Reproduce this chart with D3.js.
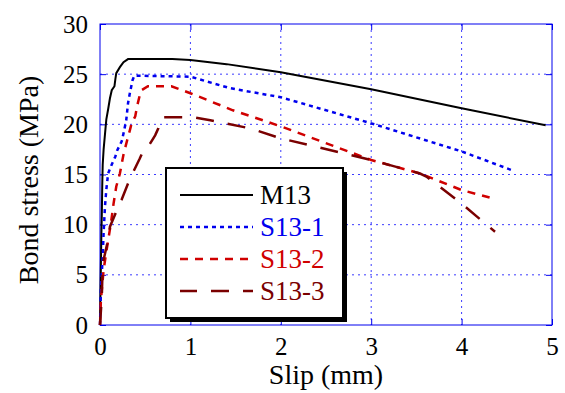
<!DOCTYPE html>
<html>
<head>
<meta charset="utf-8">
<script src="https://cdn.jsdelivr.net/npm/d3@7"></script>
<style>
  body { margin: 0; background: #fff; }
  text { font-family: "Liberation Serif", "Times New Roman", serif; }
</style>
</head>
<body>
<div id="chart"></div>
<script>
// series: [slip mm, bond stress MPa]
const m13 = [[0,0],[0.005,3],[0.01,6],[0.015,9],[0.02,11],[0.025,14],[0.03,16],[0.04,17.5],[0.055,19],
  [0.07,20.5],[0.09,21.5],[0.11,22.6],[0.13,23.4],[0.16,23.8],[0.17,24.5],[0.18,25.1],[0.22,25.7],
  [0.26,26.2],[0.31,26.5],[0.8,26.5],[1.0,26.4],[1.4,26.0],[2.0,25.2],[3.0,23.5],[4.0,21.6],[4.93,19.9]];
const s131 = [[0,0],[0.01,3.5],[0.03,6.8],[0.04,9.2],[0.055,11.8],[0.07,13.5],[0.09,15.1],[0.13,16.0],
  [0.17,16.8],[0.19,17.4],[0.24,18.3],[0.26,19.1],[0.29,20.4],[0.31,22.1],[0.33,23.1],[0.36,24.4],
  [0.38,24.85],[1.0,24.75],[1.44,23.6],[2.0,22.7],[3.0,20.1],[4.0,17.3],[4.55,15.45]];
const s132 = [[0,0],[0.01,2.5],[0.04,5.5],[0.07,7.3],[0.12,10.1],[0.15,12.1],[0.18,13.8],[0.22,15.1],
  [0.26,17.0],[0.30,18.4],[0.33,19.4],[0.35,20.1],[0.39,20.8],[0.41,21.8],[0.44,22.9],[0.46,23.4],
  [0.53,23.8],[0.79,23.8],[1.0,23.1],[1.47,21.4],[2.0,19.8],[3.0,16.45],[3.54,15.1],[4.0,13.45],[4.31,12.7]];
const s133 = [[0,0],[0.02,2.8],[0.03,6.1],[0.055,7.1],[0.09,8.5],[0.11,9.8],[0.18,11.3],[0.24,12.5],
  [0.31,14.1],[0.37,15.3],[0.44,16.6],[0.48,17.4],[0.52,17.6],[0.61,18.9],[0.645,19.6],[0.66,20.4],
  [0.68,20.7],[1.03,20.7],[1.22,20.4],[1.66,19.6],[2.0,18.6],[3.0,16.45],[3.54,15.1],[3.61,14.8],
  [4.0,12.1],[4.17,10.8],[4.37,9.3]];

const seriesNames = ["M13", "S13-1", "S13-2", "S13-3"];
const seriesData = [m13, s131, s132, s133];
const seriesColors = ["#000000", "#0000ee", "#d00000", "#7a0000"];
const seriesDash = [null, "4,4", "8,7", "18,14"];
const xTicks = [0, 1, 2, 3, 4, 5];
const yTicks = [0, 5, 10, 15, 20, 25, 30];

const W = 565, H = 393;
const margin = { top: 24, right: 13, bottom: 68, left: 100 };
const width = W - margin.left - margin.right;
const height = H - margin.top - margin.bottom;

const svg = d3.select("#chart").append("svg")
  .attr("width", W).attr("height", H);

const chart = svg.append("g")
  .attr("transform", `translate(${margin.left},${margin.top})`);

const x = d3.scaleLinear().domain([0, 5]).range([0, width]);
const y = d3.scaleLinear().domain([0, 30]).range([height, 0]);

// grid
chart.append("g").selectAll("line.gx")
  .data(xTicks.slice(1, -1)).enter().append("line")
  .attr("x1", d => x(d)).attr("x2", d => x(d))
  .attr("y1", 0).attr("y2", height)
  .attr("stroke", "#3a3aff").attr("stroke-width", 1).attr("stroke-dasharray", "2,4");
chart.append("g").selectAll("line.gy")
  .data(yTicks.slice(1, -1)).enter().append("line")
  .attr("x1", 0).attr("x2", width)
  .attr("y1", d => y(d)).attr("y2", d => y(d))
  .attr("stroke", "#3a3aff").attr("stroke-width", 1).attr("stroke-dasharray", "2,4");

// axes with inward ticks
function styleAxis(g) {
  g.select(".domain").remove();
  g.selectAll(".tick line").attr("stroke", "#0000ee");
  g.selectAll("text").attr("fill", "#000").style("font-size", "25px")
    .style("font-family", "'Liberation Serif', 'Times New Roman', serif");
}
const fmt = d3.format("d");
chart.append("g").attr("transform", `translate(0,${height})`)
  .call(d3.axisBottom(x).tickValues(xTicks).tickFormat(fmt).tickSizeInner(-6).tickSizeOuter(0).tickPadding(12))
  .call(styleAxis);
chart.append("g")
  .call(d3.axisLeft(y).tickValues(yTicks).tickFormat(fmt).tickSizeInner(-6).tickSizeOuter(0).tickPadding(12))
  .call(styleAxis);
chart.append("g")
  .call(d3.axisTop(x).tickValues(xTicks).tickSizeInner(-6).tickSizeOuter(0).tickFormat(""))
  .call(styleAxis);
chart.append("g").attr("transform", `translate(${width},0)`)
  .call(d3.axisRight(y).tickValues(yTicks).tickSizeInner(-6).tickSizeOuter(0).tickFormat(""))
  .call(styleAxis);

chart.append("rect")
  .attr("width", width).attr("height", height)
  .attr("fill", "none").attr("stroke", "#0000ee").attr("stroke-width", 1);

// curves
const line = d3.line().x(d => x(d[0])).y(d => y(d[1]));
seriesData.forEach((data, i) => {
  chart.append("path")
    .datum(data)
    .attr("d", line)
    .attr("fill", "none")
    .attr("stroke", seriesColors[i])
    .attr("stroke-width", i == 0 ? 2 : 2.5)
    .attr("stroke-dasharray", seriesDash[i]);
});

// legend
const lg = svg.append("g");
lg.append("rect").attr("x", 170).attr("y", 172).attr("width", 177).attr("height", 150).attr("fill", "#000");
lg.append("rect").attr("x", 166).attr("y", 168).attr("width", 177).attr("height", 150)
  .attr("fill", "#fff").attr("stroke", "#000").attr("stroke-width", 2);
seriesNames.forEach((name, i) => {
  const yy = 195 + i * 32;
  lg.append("line")
    .attr("x1", 180).attr("x2", 253).attr("y1", yy).attr("y2", yy)
    .attr("stroke", seriesColors[i]).attr("stroke-width", i == 0 ? 2 : 2.5)
    .attr("stroke-dasharray", seriesDash[i])
    .attr("stroke-dashoffset", i == 3 ? 1 : 0);
  lg.append("text")
    .attr("x", 260).attr("y", yy + 9)
    .attr("fill", seriesColors[i])
    .style("font-size", "27px")
    .text(name);
});

// axis titles
svg.append("text")
  .attr("x", margin.left + width / 2).attr("y", 384)
  .attr("text-anchor", "middle")
  .style("font-size", "28px")
  .text("Slip (mm)");
svg.append("text")
  .attr("transform", "translate(38,180) rotate(-90)")
  .attr("text-anchor", "middle")
  .style("font-size", "28px")
  .text("Bond stress (MPa)");
</script>
</body>
</html>
